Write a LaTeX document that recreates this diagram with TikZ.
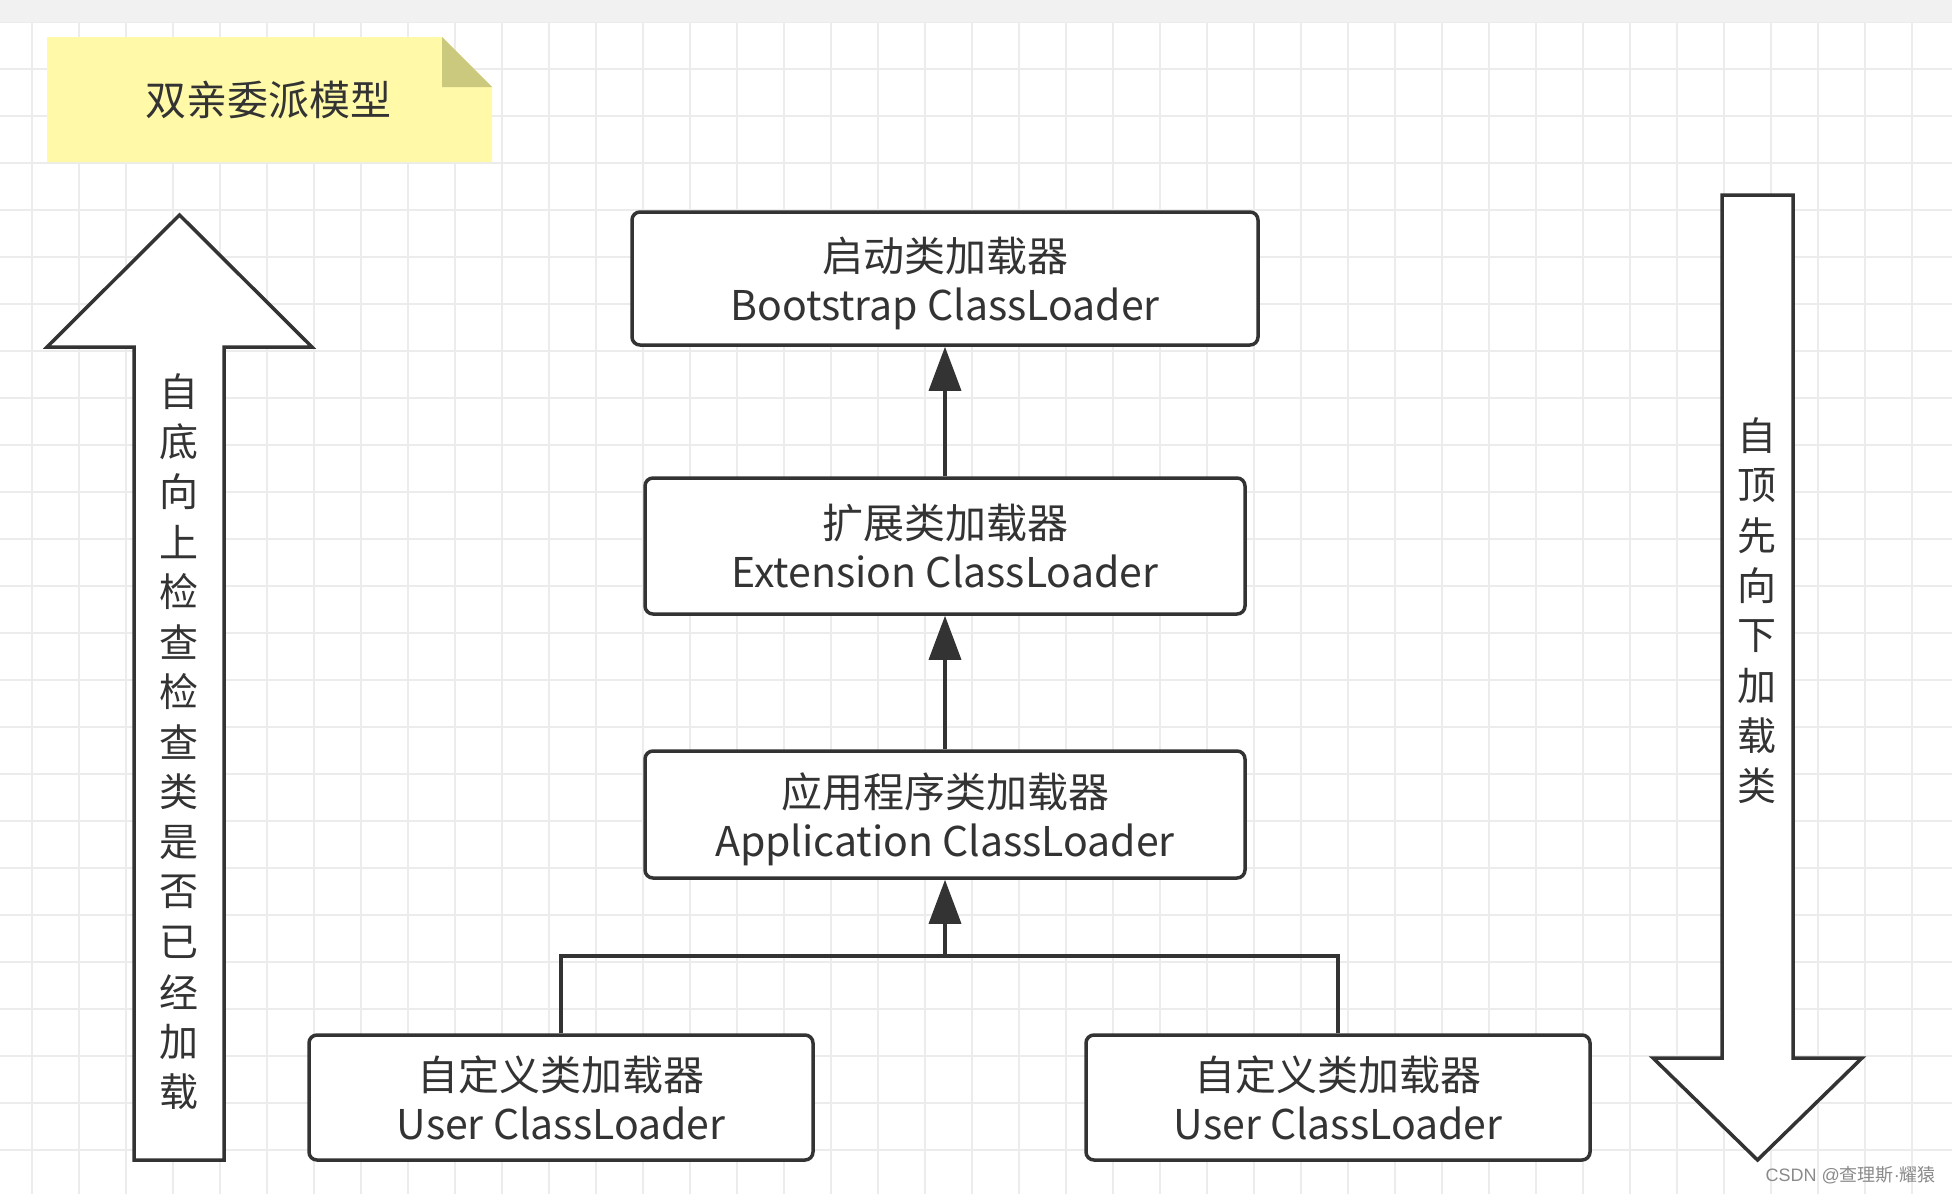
\documentclass[tikz,border=0pt]{standalone}
\usepackage{fontspec}
\setmainfont{Noto Sans CJK SC}
\newfontfamily\wmfont{Liberation Sans}
\usetikzlibrary{arrows.meta}
\definecolor{ink}{HTML}{333333}
\definecolor{gridc}{HTML}{ECECEC}
\definecolor{topbar}{HTML}{F1F1F1}
\definecolor{notefill}{HTML}{FFF9A8}
\definecolor{notefold}{HTML}{CBC97E}
\definecolor{wm}{HTML}{8A8A8A}
\tikzset{
  box/.style={draw=ink, line width=3.5pt, rounded corners=8pt, fill=white,
    align=center, text=ink, font=\fontsize{41}{49}\selectfont, inner sep=0pt},
  conn/.style={draw=ink, line width=3.5pt, line join=miter},
  tipconn/.style={conn, -{Triangle[length=44pt,width=32pt]}},
  bigarrow/.style={draw=ink, line width=3.5pt, fill=white, line join=miter},
  vchar/.style={text=ink, font=\fontsize{39}{39}\selectfont, inner sep=0pt},
}
\begin{document}
\begin{tikzpicture}[x=1pt,y=-1pt]
\useasboundingbox (0,0) rectangle (1952,1194);
% background
\fill[white] (0,0) rectangle (1952,1194);
\foreach \gx in {0,...,41} {\draw[gridc, line width=1.6pt] ({32+47*\gx},22) -- ({32+47*\gx},1194);}
\foreach \gy in {0,...,25} {\draw[gridc, line width=1.6pt] (0,{22+47*\gy}) -- (1952,{22+47*\gy});}
\fill[topbar] (0,0) rectangle (1952,22);
% note
\fill[notefill] (47,37) -- (442,37) -- (492,87) -- (492,162) -- (47,162) -- cycle;
\fill[notefold] (442,37) -- (492,87) -- (442,87) -- cycle;
\node[text=ink, font=\fontsize{41}{41}\selectfont, inner sep=0pt] (title) at (268,100) {双亲委派模型};
% boxes
\node[box, minimum width=626pt, minimum height=133pt] (boot) at (945,278.5) {};
\node[box, minimum width=600pt, minimum height=136pt] (ext) at (945,546) {};
\node[box, minimum width=600pt, minimum height=127pt] (app) at (945,814.5) {};
\node[box, minimum width=504pt, minimum height=125pt] (u1) at (561,1097.5) {};
\node[box, minimum width=504pt, minimum height=125pt] (u2) at (1338,1097.5) {};
\node[box, draw=none, fill=none] (bootlbl) at ([yshift=-5pt]boot.center) {启动类加载器\\Bootstrap ClassLoader};
\node[box, draw=none, fill=none] (extlbl) at (ext.center) {扩展类加载器\\Extension ClassLoader};
\node[box, draw=none, fill=none] (applbl) at ([yshift=-4.5pt]app.center) {应用程序类加载器\\Application ClassLoader};
\node[box, draw=none, fill=none] (u1lbl) at (u1.center) {自定义类加载器\\User ClassLoader};
\node[box, draw=none, fill=none] (u2lbl) at (u2.center) {自定义类加载器\\User ClassLoader};
% connectors
\coordinate (j) at (945,956);
\draw[tipconn] (ext.north) -- (boot.south);
\draw[tipconn] (app.north) -- (ext.south);
\draw[conn] (u1.north) |- (j);
\draw[conn] (u2.north) |- (j);
\draw[tipconn] (j) -- (app.south);
% big up arrow
\draw[bigarrow] (134,1160) -- (134,347) -- (47,347) -- (179.5,215) -- (312,347) -- (224,347) -- (224,1160) -- cycle;
\foreach \c [count=\i] in {自,底,向,上,检,查,检,查,类,是,否,已,经,加,载}
  {\node[vchar] (upc\i) at (179,{392+50*(\i-1)}) {\c};}
% big down arrow
\draw[bigarrow] (1722,195) -- (1793,195) -- (1793,1058) -- (1862,1058) -- (1757.5,1160) -- (1653,1058) -- (1722,1058) -- cycle;
\foreach \c [count=\i] in {自,顶,先,向,下,加,载,类}
  {\node[vchar] (dnc\i) at (1757,{436+50*(\i-1)}) {\c};}
% watermark
\node[text=wm, font=\fontsize{18}{18}\selectfont, inner sep=0pt, anchor=east] (wmark) at (1936,1175) {{\wmfont CSDN @}查理斯{\wmfont\textperiodcentered}耀猿};
\end{tikzpicture}
\end{document}
